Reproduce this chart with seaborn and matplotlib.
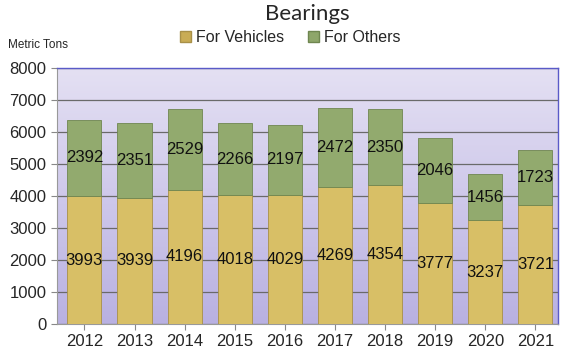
import numpy as np
import pandas as pd
import matplotlib
matplotlib.use("Agg")
import matplotlib.pyplot as plt
import seaborn as sns
from matplotlib.colors import LinearSegmentedColormap
from matplotlib.patches import Patch

years = ["2012", "2013", "2014", "2015", "2016", "2017", "2018", "2019", "2020", "2021"]
vehicles = [3993, 3939, 4196, 4018, 4029, 4269, 4354, 3777, 3237, 3721]
others = [2392, 2351, 2529, 2266, 2197, 2472, 2350, 2046, 1456, 1723]

df = pd.DataFrame({"year": years, "vehicles": vehicles, "others": others})

sns.set_style("white")
plt.rcParams["font.family"] = ["Liberation Sans", "DejaVu Sans"]

fig = plt.figure(figsize=(5.8, 3.58), dpi=100)
ax = fig.add_axes([0.098, 0.095, 0.864, 0.715])

# lavender gradient behind the plot area
bg = LinearSegmentedColormap.from_list("bg", ["#b9b1e2", "#e4e0f3"])
ax.imshow(np.linspace(0, 1, 100).reshape(-1, 1), cmap=bg, origin="lower",
          aspect="auto", extent=(0, 1, 0, 1), transform=ax.transAxes, zorder=0)

veh_col = "#d8bf66"
oth_col = "#92aa6e"

sns.barplot(data=df, x="year", y="vehicles", color=veh_col, width=0.68,
            edgecolor="#a89048", linewidth=0.6, saturation=1, ax=ax, zorder=3)
sns.barplot(data=df, x="year", y="others", bottom=df["vehicles"], color=oth_col,
            width=0.68, edgecolor="#6f8650", linewidth=0.6, saturation=1,
            ax=ax, zorder=3)

for i, row in df.iterrows():
    ax.text(i, row["vehicles"] / 2, str(row["vehicles"]), ha="center",
            va="center", fontsize=12, color="#111111", zorder=4)
    ax.text(i, row["vehicles"] + row["others"] / 2, str(row["others"]),
            ha="center", va="center", fontsize=12, color="#111111", zorder=4)

ax.set_ylim(0, 8000)
ax.set_xlim(-0.55, 9.45)
ax.set_yticks(range(0, 8001, 1000))
ax.yaxis.grid(True, color="#6a6a6a", linewidth=0.9, zorder=1)
ax.set_axisbelow(True)
ax.set_xlabel("")
ax.set_ylabel("")
ax.tick_params(axis="both", labelsize=12, length=4, color="#888888",
               bottom=True, left=True)
for s in ["left", "bottom"]:
    ax.spines[s].set_color("#999999")
for s in ["top", "right"]:
    ax.spines[s].set_color("#5a5ac8")
    ax.spines[s].set_linewidth(1.0)

fig.text(0.53, 0.962, "Bearings", ha="center", va="center", fontsize=16,
         family=["Lato", "DejaVu Sans"])
fig.text(0.014, 0.875, "Metric Tons", ha="left", va="center", fontsize=8.5)

handles = [Patch(facecolor="#c9ac55", edgecolor="#a89048", label="For Vehicles"),
           Patch(facecolor="#8ea66a", edgecolor="#6f8650", label="For Others")]
fig.legend(handles=handles, loc="center", bbox_to_anchor=(0.5, 0.895), ncol=2,
           frameon=False, fontsize=11.5, handlelength=0.7, handleheight=0.7,
           handletextpad=0.3, columnspacing=1.5)

fig.savefig("out.png", dpi=100)
